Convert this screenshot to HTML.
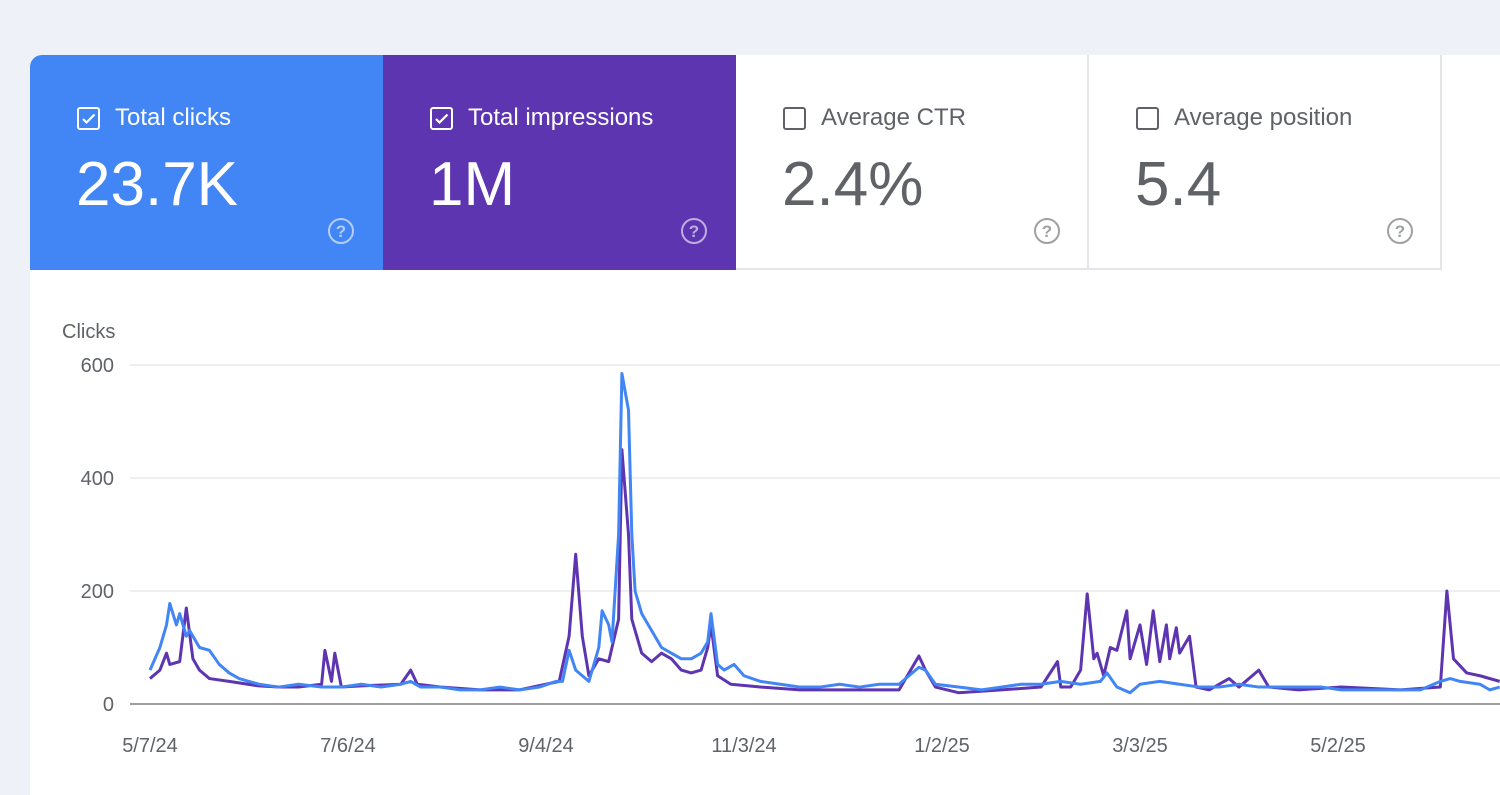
<!DOCTYPE html>
<html><head><meta charset="utf-8"><style>
body{margin:0;width:1500px;height:785px;background:#eef2f8;font-family:"Liberation Sans",sans-serif;overflow:hidden;position:relative}
.panel{position:absolute;left:30px;top:55px;width:1480px;height:740px;background:#fff;border-radius:12px 0 0 0}
.tile{position:absolute;top:55px;height:215px;width:353px;box-sizing:border-box}
.t1{left:30px;background:#4285f4;color:#fff;border-radius:12px 0 0 0}
.t2{left:383px;background:#5e35b1;color:#fff}
.t3{left:736px;background:#fff;color:#5f6368;border-right:2px solid #e3e5e8;border-bottom:2px solid #e3e5e8}
.t4{left:1089px;background:#fff;color:#5f6368;border-right:2px solid #e3e5e8;border-bottom:2px solid #e3e5e8}
.cb{position:absolute;left:47px;top:52px;width:23px;height:23px;border:2px solid currentColor;border-radius:3px;box-sizing:border-box}
.ttl{position:absolute;left:85px;top:49px;font-size:24px}
.val{position:absolute;left:46px;top:94px;font-size:62px}
.q{position:absolute;left:298px;top:163px;width:26px;height:26px;border:2px solid currentColor;border-radius:50%;box-sizing:border-box;font-size:17px;font-weight:bold;text-align:center;line-height:23px;opacity:.6}
</style></head><body>
<div class="panel"></div>
<div class="tile t1"><div class="cb"><svg width="19" height="19" viewBox="0 0 19 19"><path d="M4 10l3.5 3.5 8-8" stroke="#fff" stroke-width="2.2" fill="none"/></svg></div><div class="ttl">Total clicks</div><div class="val">23.7K</div><div class="q">?</div></div>
<div class="tile t2"><div class="cb"><svg width="19" height="19" viewBox="0 0 19 19"><path d="M4 10l3.5 3.5 8-8" stroke="#fff" stroke-width="2.2" fill="none"/></svg></div><div class="ttl">Total impressions</div><div class="val">1M</div><div class="q">?</div></div>
<div class="tile t3"><div class="cb"></div><div class="ttl">Average CTR</div><div class="val">2.4%</div><div class="q">?</div></div>
<div class="tile t4"><div class="cb"></div><div class="ttl">Average position</div><div class="val">5.4</div><div class="q">?</div></div>
<svg id="chart" width="1500" height="785" style="position:absolute;left:0;top:0"></svg>
<script>
const yTicks=[0,200,400,600];
const xLabels=["5/7/24","7/6/24","9/4/24","11/3/24","1/2/25","3/3/25","5/2/25"];
const xLabelDays=[0,60,120,180,240,300,360];
const clickDays=[0,3,5,6,8,9,11,12,15,18,21,24,27,30,33,39,45,52,58,64,70,76,79,82,88,94,100,106,112,118,123,125,127,129,133,136,137,139,140,142,143,145,146,147,149,152,155,158,161,164,167,169,170,172,174,177,180,185,191,197,203,209,215,221,227,233,235,238,245,252,258,264,270,276,282,288,290,293,297,300,306,312,318,324,330,336,342,348,355,361,367,373,379,385,391,394,397,403,406,409];
const clickVals=[60,100,140,178,140,160,120,130,100,95,70,55,45,40,35,30,35,30,30,35,30,35,40,30,30,25,25,30,25,30,40,40,95,60,40,100,165,140,110,300,585,520,300,200,160,130,100,90,80,80,90,110,160,70,60,70,50,40,35,30,30,35,30,35,35,65,60,35,30,25,30,35,35,40,35,40,55,30,20,35,40,35,30,30,35,30,30,30,30,25,25,25,25,25,40,45,40,35,25,30];
const imprDays=[0,3,5,6,9,11,13,15,18,24,33,39,45,52,53,55,56,58,64,76,79,81,88,100,112,124,127,129,131,133,136,139,142,143,145,146,149,152,155,158,161,164,167,169,170,172,176,185,197,212,227,233,235,238,245,258,270,275,276,279,282,284,286,287,289,291,293,296,297,300,302,304,306,308,309,311,312,315,317,321,327,330,336,339,348,361,379,391,393,395,399,403,409];
const imprVals=[45,60,90,70,75,170,80,60,45,40,32,30,30,35,95,40,90,30,32,35,60,35,30,25,25,40,120,265,120,50,80,75,150,450,300,150,90,75,90,80,60,55,60,100,140,50,35,30,25,25,25,85,60,30,20,25,30,75,30,30,60,195,80,90,50,100,95,165,80,140,70,165,75,140,80,135,90,120,30,25,45,30,60,30,25,30,25,30,200,80,55,50,40];
const NS="http://www.w3.org/2000/svg";
const svg=document.getElementById('chart');
const x=d=>150+d*3.3;
const y=v=>704-v*0.565;
function mk(t,a){const e=document.createElementNS(NS,t);for(const k in a)e.setAttribute(k,a[k]);svg.appendChild(e);return e;}
const yt=mk('text',{x:62,y:338,fill:'#5f6368','font-size':20});yt.textContent='Clicks';


yTicks.forEach(v=>{
 const l=mk('line',{x1:130,x2:1500,y1:y(v),y2:y(v),stroke:v?'#e8eaed':'#9e9e9e','stroke-width':v?1.5:2});
 
 
 const t=mk('text',{x:114,y:y(v)+7,fill:'#5f6368','font-size':20,'text-anchor':'end'});t.textContent=v;
 
 
});
xLabels.forEach((s,i)=>{
 const t=mk('text',{x:x(xLabelDays[i]),y:752,fill:'#5f6368','font-size':20,'text-anchor':'middle'});t.textContent=s;
 
 
});
function line(days,vals,color,name){
 const p=mk('polyline',{points:days.map((d,i)=>x(d)+','+y(vals[i])).join(' '),fill:'none',stroke:color,'stroke-width':3,'stroke-linejoin':'round'});
 
 
}
line(imprDays,imprVals,'#5e35b1','impressions-line');
line(clickDays,clickVals,'#4285f4','clicks-line');
</script>
</body></html>
